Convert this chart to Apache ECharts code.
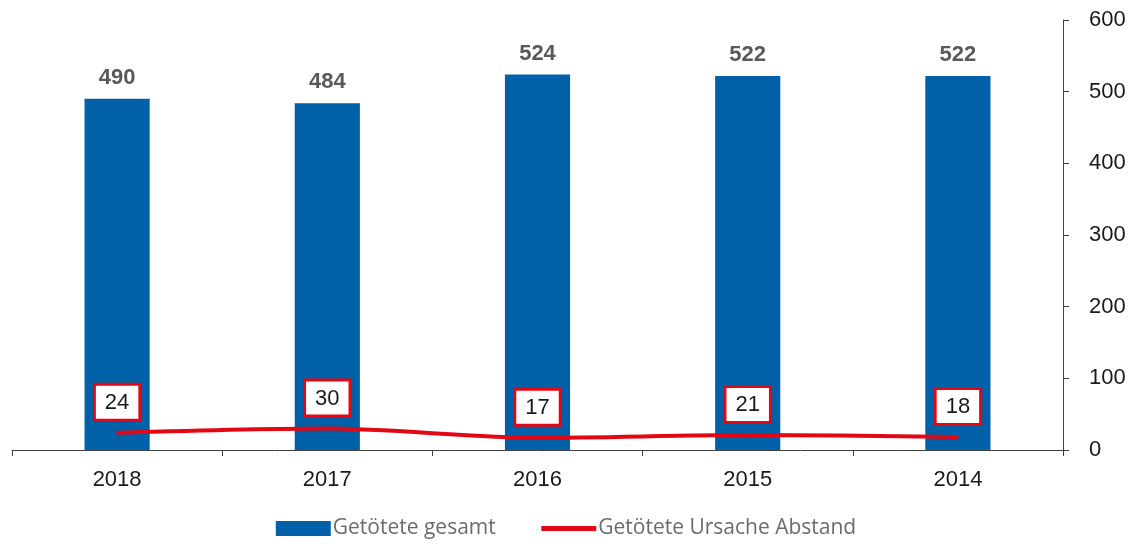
<!DOCTYPE html>
<html lang="de">
<head>
    <meta charset="UTF-8">
    <title>Getötete</title>
    <script src="https://cdn.jsdelivr.net/npm/echarts@6/dist/echarts.min.js"></script>
</head>
<body style="margin:0">
  <div id="main" style="width:1132px;height:544px;"></div>
  <script type="text/javascript">
    var jahre = ['2018', '2017', '2016', '2015', '2014'];
    var gesamt = [490, 484, 524, 522, 522];
    var abstand = [24, 30, 17, 21, 18];
    var yTicks = [0, 100, 200, 300, 400, 500, 600];

    var rot = '#e30613';
    var myChart = echarts.init(document.getElementById('main'));
    var option = {
        animation: false,
        grid: { left: 12, right: 69, top: 20, bottom: 94 },
        legend: {
            bottom: 0,
            itemWidth: 55,
            itemHeight: 15,
            itemGap: 43,
            textStyle: { fontFamily: 'Open Sans', fontSize: 21, color: '#6b6b6b', padding: [0, 0, 0, -3] },
            data: [
                { name: 'Getötete gesamt', icon: 'rect' },
                { name: 'Getötete Ursache Abstand', itemStyle: { opacity: 0 }, lineStyle: { width: 5 } }
            ]
        },
        xAxis: {
            type: 'category',
            data: jahre,
            axisLine: { lineStyle: { color: '#404040', width: 1 } },
            axisTick: { show: true, length: 6, lineStyle: { color: '#404040' } },
            axisLabel: { fontFamily: 'Liberation Sans', fontSize: 22, color: '#1a1a1a', margin: 19 }
        },
        yAxis: {
            type: 'value',
            position: 'right',
            min: yTicks[0],
            max: yTicks[yTicks.length - 1],
            interval: 100,
            splitLine: { show: false },
            axisLine: { show: true, lineStyle: { color: '#404040' } },
            axisTick: { show: true, length: 6, lineStyle: { color: '#404040' } },
            axisLabel: { fontFamily: 'Liberation Sans', fontSize: 22, color: '#1a1a1a', margin: 26 }
        },
        series: [{
            name: 'Getötete gesamt',
            type: 'bar',
            data: gesamt,
            barWidth: '31%',
            itemStyle: { color: '#0061a8' },
            label: {
                show: true,
                position: 'top',
                distance: 10,
                fontFamily: 'Liberation Sans',
                fontSize: 22,
                fontWeight: 'bold',
                color: '#595959'
            }
        }, {
            name: 'Getötete Ursache Abstand',
            type: 'line',
            data: abstand,
            smooth: 0.3,
            symbol: 'circle',
            symbolSize: 2,
            showSymbol: true,
            lineStyle: { color: rot, width: 4 },
            itemStyle: { color: rot },
            label: {
                show: true,
                position: 'top',
                distance: 13,
                fontFamily: 'Liberation Sans',
                fontSize: 22,
                lineHeight: 22,
                color: '#1a1a1a',
                backgroundColor: '#ffffff',
                borderColor: rot,
                borderWidth: 3,
                padding: [6, 9, 5, 9]
            }
        }]
    };
    myChart.setOption(option, true);
  </script>
</body>
</html>
